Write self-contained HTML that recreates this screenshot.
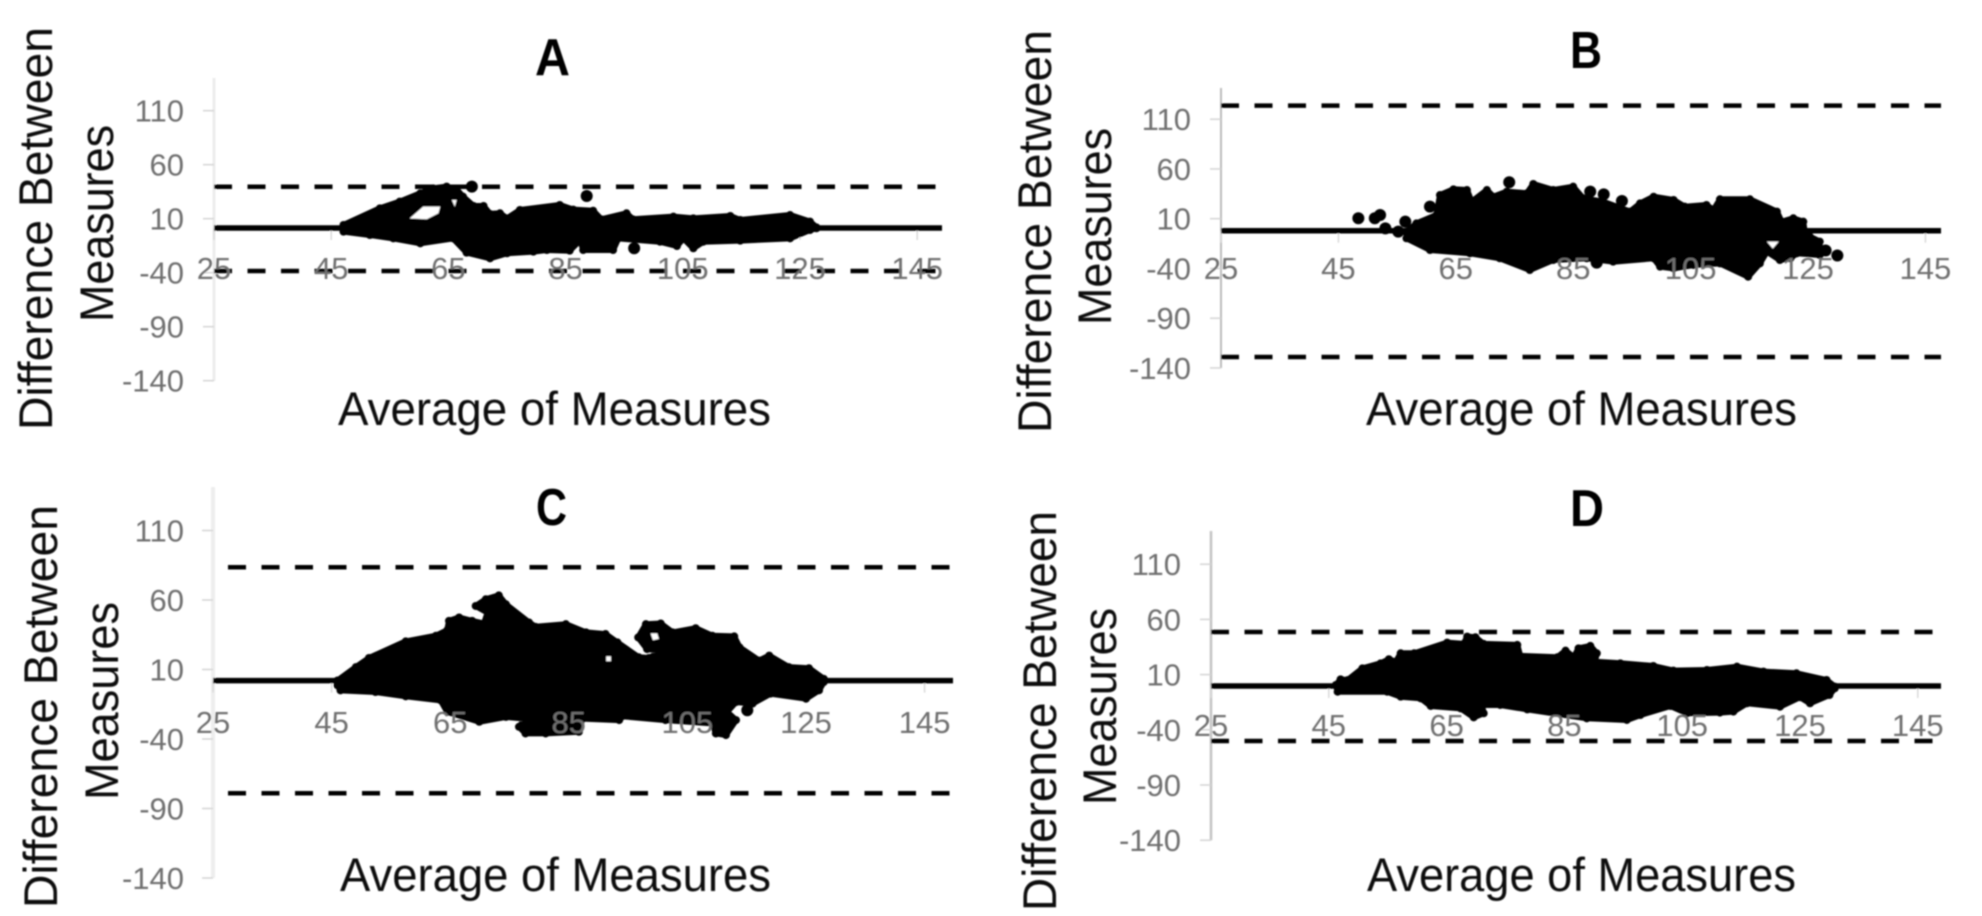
<!DOCTYPE html>
<html lang="en">
<head>
<meta charset="utf-8">
<title>Bland-Altman plots A-D</title>
<style>
  html,body{margin:0;padding:0;background:#fff;width:1982px;height:916px;overflow:hidden}
  svg{display:block}
  text{font-family:"Liberation Sans",sans-serif}
  .tick{fill:#707070;font-size:31px}
  .axt{fill:#111;font-size:47px}
  .ttl{fill:#000;font-size:52px;font-weight:bold}
</style>
</head>
<body>
<svg id="figure" xmlns="http://www.w3.org/2000/svg" width="1982" height="916" viewBox="0 0 1982 916">
  <defs>
    <filter id="soft" x="-2%" y="-2%" width="104%" height="104%"><feGaussianBlur stdDeviation="0.7"/></filter>
  </defs>
  <g filter="url(#soft)">
    <g id="plots"></g>
    <text class="ttl" x="535" y="75" textLength="35" lengthAdjust="spacingAndGlyphs">A</text>
    <text class="ttl" x="1570" y="68" textLength="32" lengthAdjust="spacingAndGlyphs">B</text>
    <text class="ttl" x="536" y="525" textLength="31" lengthAdjust="spacingAndGlyphs">C</text>
    <text class="ttl" x="1570" y="526" textLength="34" lengthAdjust="spacingAndGlyphs">D</text>

    <text class="axt" x="338" y="425" textLength="433" lengthAdjust="spacingAndGlyphs">Average of Measures</text>
    <text class="axt" x="1366" y="425" textLength="431" lengthAdjust="spacingAndGlyphs">Average of Measures</text>
    <text class="axt" x="340" y="891" textLength="431" lengthAdjust="spacingAndGlyphs">Average of Measures</text>
    <text class="axt" x="1367" y="891" textLength="429" lengthAdjust="spacingAndGlyphs">Average of Measures</text>

    <text class="axt" transform="translate(52,430) rotate(-90)" textLength="403" lengthAdjust="spacingAndGlyphs">Difference Between</text>
    <text class="axt" transform="translate(113,322) rotate(-90)" textLength="197" lengthAdjust="spacingAndGlyphs">Measures</text>
    <text class="axt" transform="translate(1051,433) rotate(-90)" textLength="403" lengthAdjust="spacingAndGlyphs">Difference Between</text>
    <text class="axt" transform="translate(1111,325) rotate(-90)" textLength="197" lengthAdjust="spacingAndGlyphs">Measures</text>
    <text class="axt" transform="translate(57,908) rotate(-90)" textLength="403" lengthAdjust="spacingAndGlyphs">Difference Between</text>
    <text class="axt" transform="translate(118,800) rotate(-90)" textLength="198" lengthAdjust="spacingAndGlyphs">Measures</text>
    <text class="axt" transform="translate(1056,911) rotate(-90)" textLength="400" lengthAdjust="spacingAndGlyphs">Difference Between</text>
    <text class="axt" transform="translate(1116,805) rotate(-90)" textLength="197" lengthAdjust="spacingAndGlyphs">Measures</text>
  </g>
</svg>
<script>
const xTicks = [25,45,65,85,105,125,145];
const yTicks = [110,60,10,-40,-90,-140];

/* limits of agreement: upper, mean, lower */
const aLimits = [39.6,1.4,-38.4];
const bLimits = [123.6,-2.1,-129];
const cLimits = [83.6,2,-79];
const dLimits = [48.6,-0.3,-50.1];

/* Panel A: scatter cloud edges */
const aUpAvg  = [47.1,53.3,56.7,60.2,62.4,64.7,66.4,67.5,69.3,71,72.1,73.8,75,77.2,84,86.3,89.7,91.1,95.4,96.5,103.4,106.8,113.1,114.8,123.3,126.7,127.8];
const aUpDiff = [4.2,19.6,25.8,33.5,38.1,39.7,37.2,30.4,21.8,21.8,14.4,15,10.3,18.1,22.7,18.4,17.4,9.4,15,9.4,11.9,10.3,12.5,8.8,13.4,7.3,2];
const aLoAvg  = [47.1,51.6,55.6,60.2,65.8,68.1,72.1,75,79.5,81.8,85.7,87.5,88,93.1,94,101.1,104,105.1,106.8,108.5,114.8,123.3,126.7,127.8];
const aLoDiff = [-2,-5.1,-8.2,-12.8,-8.2,-21.4,-26.7,-22,-20.5,-19,-19.6,-9.7,-19,-19,-8.2,-11.3,-15.3,-8.2,-17.4,-11.3,-10.3,-8.2,-0.5,1.1];
const aDotAvg  = [69,88.6,96.7,72.1];
const aDotDiff = [39.7,31,-17.4,-23];
const aGapAvg  = [[58.4,60.7,63.6,63.3,61.3],[65.6,66.4,66.1]];
const aGapDiff = [[10.3,21.2,21.2,15,9.4],[27.3,27.3,21.2]];

/* Panel B */
const bUpAvg  = [56.6,58.3,61.7,62.3,64.6,66.9,67.7,70.3,71.4,73.7,77.1,78.2,81.6,85,86.7,90.1,94.7,96.4,98.7,102.1,104,107.7,108.9,110,115.1,119.7,120.5,122.5,124.2,124.5,125.3,127];
const bUpDiff = [-3,5.3,13.7,33.8,39.5,38.8,27.1,38.8,32.1,37.2,35.5,44.9,38.8,42.2,30.5,27.1,17.1,25.4,32.1,28.8,22.1,23.8,18.8,29.5,29.5,17.1,7,10.4,7,-6.4,-8,-13];
const bLoAvg  = [56.6,60.6,67.4,72.5,77.6,81.6,87.3,91.8,98.7,99.8,102.1,105.5,110,114.8,116.8,118,120.2,122,123.1,127];
const bLoDiff = [-9.7,-21.5,-24.8,-29.8,-41.6,-31.5,-29.8,-33.2,-29.8,-38.2,-39.9,-36.5,-34.9,-48.3,-34.9,-23.1,-31.5,-29.8,-24.8,-26.5];
const bDotAvg  = [48.4,52.1,51.2,53,55.2,56.4,60.6,74.1,87.9,90.2,93.3,89,128,130];
const bDotDiff = [10.4,13.7,10.4,0.3,-3,7,22.1,46.6,37.2,34.5,27.8,-34.2,-22,-27];
const bGapAvg  = [[118,120,119]];
const bGapDiff = [[-13,-13,-20]];

/* Panel C */
const cUpAvg  = [46,49.1,51.3,57.5,62.6,64.5,64.8,66.5,68.7,70.7,71.3,69.3,71,73.2,74.4,78.3,79.4,84.5,87.9,91.2,93.2,96.8,98.5,100.8,98.2,96.7,98,100.5,102.5,106.4,109.2,112.9,113.8,117.1,118.8,122.1,125.5,128];
const cUpDiff = [2.1,11.7,18.3,30.2,34.3,38.3,45,47.4,45,43.1,50.9,55.7,60.5,63.3,56.9,43.8,40.7,42.6,36.7,35.5,29.5,18.8,18.3,23.6,24.7,33.1,42.6,43.1,36.7,39.7,34.3,33.8,25.9,16.4,20,11.7,10.9,3.3];
const cLoAvg  = [46,46.5,52.4,57.5,63.4,64.5,69.9,74.4,77.7,76.6,77.7,81.1,86.7,87.3,93.5,94,101.3,109.2,109.8,111.5,113.2,111.7,113.2,116,119,125,127.2,128];
const cLoDiff = [-1.4,-5,-6.2,-9.3,-12.2,-20.5,-27.6,-24.1,-25.3,-31.2,-36,-36,-34.8,-25.3,-26.4,-23.6,-26.4,-28.8,-36,-37.2,-26.4,-20.5,-13.4,-14.5,-7.4,-11,-5,1];
const cDotAvg  = [115.1];
const cDotDiff = [-19.3];
const cGapAvg  = [[98.8,99.9,100.2,99.2],[91.3,92.1,92.1,91.3]];
const cGapDiff = [[36,36,32,31],[19.5,19.5,16,16]];

/* Panel D */
const dUpAvg  = [46.2,47,48.2,50.7,53.8,55.2,56.4,57.2,59.5,65.1,67.9,68.5,69.9,71.3,77,77.5,83.8,85.2,86.6,87.4,89.4,90.5,90.2,94.5,100.1,103.5,109.2,114.3,118.8,124.4,129.5,130.9];
const dUpDiff = [0.6,5.7,5,15.6,20.2,23.9,21.7,29.3,29.3,39,37.8,44.4,43.8,37.8,36.9,26.9,25.7,31.7,25.7,33.8,36,29.3,21.7,20.2,17.8,13.6,14.2,17.2,12.7,11.2,5.1,-0.9];
const dLoAvg  = [46.5,54.9,57.2,60.6,62.3,67.4,69.6,71.3,71,74.1,78.7,88.8,95.6,97.9,103,105.8,111.4,113.7,116,121.6,125,126.7,130,130.9];
const dLoDiff = [-5.5,-5.5,-10,-11.5,-18.4,-20.6,-28.7,-25,-17.5,-17.5,-21.5,-29.6,-31.1,-26.6,-18.4,-25,-24.4,-23.5,-16,-19.1,-10.5,-16,-8.5,-2.4];
const dDotAvg  = [];
const dDotDiff = [];
const dGapAvg  = [];
const dGapDiff = [];

const NS = 'http://www.w3.org/2000/svg';
const root = document.getElementById('plots');

function make(tag, parent, attrs){
  const el = document.createElementNS(NS, tag);
  for (const k in attrs) el.setAttribute(k, attrs[k]);
  parent.appendChild(el);
  return el;
}

function drawPanel(id, cfg, limits, upAvg, upDiff, loAvg, loDiff, dotAvg, dotDiff, gapAvg, gapDiff){
  const sx = v => cfg.x0 + (v - 25) * cfg.xs;
  const sy = d => cfg.y10 - (d - 10) * cfg.ys;
  const g = make('g', root, {});
  
  

  const axis = make('line', g, {x1:cfg.x0, x2:cfg.x0, y1:cfg.top, y2:sy(-140), stroke:cfg.axisColor, 'stroke-width':cfg.axisWidth});
  
  

  yTicks.forEach(t => {
    const m = make('line', g, {x1:cfg.x0 - 11, x2:cfg.x0, y1:sy(t), y2:sy(t), stroke:'#d4d4d4', 'stroke-width':1.5});
    
    
  });
  xTicks.forEach(t => {
    const m = make('line', g, {x1:sx(t), x2:sx(t), y1:sy(limits[1]), y2:sy(limits[1]) + 12, stroke:'#d9d9d9', 'stroke-width':1.5});
    
    
  });

  const mean = make('line', g, {x1:cfg.x0, x2:cfg.lineEnd, y1:sy(limits[1]), y2:sy(limits[1]), stroke:'#000', 'stroke-width':5.5});
  
  

  const upper = make('line', g, {x1:cfg.dashStart, x2:cfg.lineEnd, y1:sy(limits[0]), y2:sy(limits[0]), stroke:'#000', 'stroke-width':4.5, 'stroke-dasharray':'18 15.5'});
  
  

  const lower = make('line', g, {x1:cfg.dashStart, x2:cfg.lineEnd, y1:sy(limits[2]), y2:sy(limits[2]), stroke:'#000', 'stroke-width':4.5, 'stroke-dasharray':'18 15.5'});
  
  

  const pts = [];
  upAvg.forEach((v, i) => pts.push(sx(v).toFixed(1) + ',' + sy(upDiff[i]).toFixed(1)));
  for (let i = loAvg.length - 1; i >= 0; i--) pts.push(sx(loAvg[i]).toFixed(1) + ',' + sy(loDiff[i]).toFixed(1));
  const cloud = make('polygon', g, {points:pts.join(' '), fill:'#000', stroke:'#000', 'stroke-width':6, 'stroke-linejoin':'round'});
  
  

  upAvg.forEach((v, i) => {
    const edge = make('circle', g, {cx:sx(v), cy:sy(upDiff[i]), r:4, fill:'#000'});
    
    
  });
  loAvg.forEach((v, i) => {
    const edge = make('circle', g, {cx:sx(v), cy:sy(loDiff[i]), r:4, fill:'#000'});
    
    
  });

  gapAvg.forEach((avgs, k) => {
    const p = avgs.map((v, i) => sx(v).toFixed(1) + ',' + sy(gapDiff[k][i]).toFixed(1)).join(' ');
    const gap = make('polygon', g, {points:p, fill:'#fff'});
    
    
  });

  dotAvg.forEach((v, i) => {
    const dot = make('circle', g, {cx:sx(v), cy:sy(dotDiff[i]), r:6, fill:'#000'});
    
    
  });

  xTicks.forEach(t => {
    const lbl = make('text', g, {x:sx(t), y:cfg.xLabelY, 'text-anchor':'middle', class:'tick'});
    lbl.textContent = String(t);
    
    
  });
  yTicks.forEach(t => {
    const lbl = make('text', g, {x:cfg.yLabelX, y:sy(t) + 11, 'text-anchor':'end', class:'tick'});
    lbl.textContent = String(t);
    
    
  });
}

drawPanel('a', {x0:214, xs:5.86, y10:218.7, ys:1.08, top:78, lineEnd:942, dashStart:214, xLabelY:279, yLabelX:184, axisColor:'#ececec', axisWidth:3},
  aLimits, aUpAvg, aUpDiff, aLoAvg, aLoDiff, aDotAvg, aDotDiff, aGapAvg, aGapDiff);
drawPanel('b', {x0:1221, xs:5.87, y10:218.7, ys:0.995, top:88, lineEnd:1941, dashStart:1221, xLabelY:279, yLabelX:1191, axisColor:'#bcbcbc', axisWidth:2},
  bLimits, bUpAvg, bUpDiff, bLoAvg, bLoDiff, bDotAvg, bDotDiff, bGapAvg, bGapDiff);
drawPanel('c', {x0:213, xs:5.93, y10:669.5, ys:1.39, top:487, lineEnd:953, dashStart:228, xLabelY:733, yLabelX:184, axisColor:'#eeeeee', axisWidth:4},
  cLimits, cUpAvg, cUpDiff, cLoAvg, cLoDiff, cDotAvg, cDotDiff, cGapAvg, cGapDiff);
drawPanel('d', {x0:1211, xs:5.89, y10:674.6, ys:1.104, top:531, lineEnd:1941, dashStart:1211, xLabelY:736, yLabelX:1181, axisColor:'#c4c4c4', axisWidth:2.5},
  dLimits, dUpAvg, dUpDiff, dLoAvg, dLoDiff, dDotAvg, dDotDiff, dGapAvg, dGapDiff);
</script>
</body>
</html>
